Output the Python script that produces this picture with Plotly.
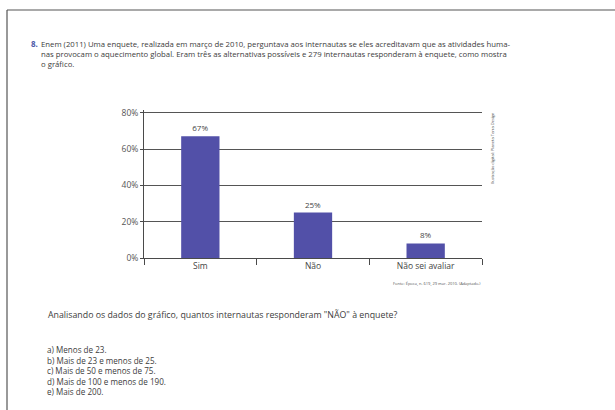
import plotly.graph_objects as go

categories = ["Sim", "Não", "Não sei avaliar"]
values = [67, 25, 8]
value_labels = ["67%", "25%", "8%"]
y_ticks = [0, 20, 40, 60, 80]
y_tick_labels = ["0%", "20%", "40%", "60%", "80%"]

W, H = 615, 410
L, R, T, B = 144, 482, 110, 258


def px(x):
    return (x - L) / (R - L)


def py(y):
    return (B - y) / (B - T)


FONT = "Open Sans"
TXT = "#3c3c3c"

fig = go.Figure()
fig.add_trace(go.Bar(
    x=categories, y=values, text=value_labels, textposition="outside",
    textfont=dict(family=FONT, size=8, color="#444"),
    marker=dict(color="#5250a8", line=dict(width=0)),
    width=0.34, cliponaxis=False, hoverinfo="skip",
))

fig.update_layout(
    width=W, height=H,
    margin=dict(l=L, r=W - R, t=T, b=H - B, pad=0),
    paper_bgcolor="white", plot_bgcolor="white",
    showlegend=False,
    xaxis=dict(
        showline=True, linecolor="#4a4a4a", linewidth=1,
        ticks="outside", tickson="boundaries", ticklen=6, tickcolor="#4a4a4a",
        tickfont=dict(family=FONT, size=8.5, color="#444"),
        showgrid=False, fixedrange=True,
    ),
    yaxis=dict(
        range=[0, 81.5], tickmode="array", tickvals=y_ticks, ticktext=y_tick_labels,
        showline=True, linecolor="#4a4a4a", linewidth=1,
        ticks="outside", ticklen=3, tickcolor="#4a4a4a",
        showgrid=True, gridcolor="#555", gridwidth=1,
        zeroline=False,
        tickfont=dict(family=FONT, size=8.5, color="#555"),
        fixedrange=True,
    ),
)

ann = []


def text(x, y, s, size, color=TXT, anchor="left", angle=0, bold=False, yanchor="middle"):
    if bold:
        s = "<b>" + s + "</b>"
    ann.append(dict(
        xref="paper", yref="paper", x=px(x), y=py(y), text=s, showarrow=False,
        xanchor=anchor, yanchor=yanchor, textangle=angle, align="left",
        font=dict(family=FONT, size=size, color=color),
    ))


text(29, 44, "8.", 8, color="#4b58a8", bold=True)
text(39, 44, "Enem (2011) Uma enquete, realizada em março de 2010, perguntava aos internautas se eles acreditavam que as atividades huma-", 7.75)
text(39, 54, "nas provocam o aquecimento global. Eram três as alternativas possíveis e 279 internautas responderam à enquete, como mostra", 7.75)
text(39, 64, "o gráfico.", 7.75)

text(492, 148, "Ilustração digital: Planeta Terra Design", 4, color="#555", anchor="center", angle=-90)
text(483, 283, "Fonte: Época, n. 619, 29 mar. 2010. (Adaptado.)", 4, color="#555", anchor="right")

text(46, 315, "Analisando os dados do gráfico, quantos internautas responderam \"NÃO\" à enquete?", 8.8)
options = [
    "a) Menos de 23.",
    "b) Mais de 23 e menos de 25.",
    "c) Mais de 50 e menos de 75.",
    "d) Mais de 100 e menos de 190.",
    "e) Mais de 200.",
]
text(45, 370, "<br>".join(options), 8.1)

fig.update_layout(annotations=ann)

# page frame
fig.add_shape(type="line", xref="paper", yref="paper",
              x0=px(7), x1=px(620), y0=py(10), y1=py(10),
              line=dict(color="#555", width=1.2))
fig.add_shape(type="line", xref="paper", yref="paper",
              x0=px(7), x1=px(7), y0=py(10), y1=py(420),
              line=dict(color="#555", width=1.2))

fig.write_html("out.html")
